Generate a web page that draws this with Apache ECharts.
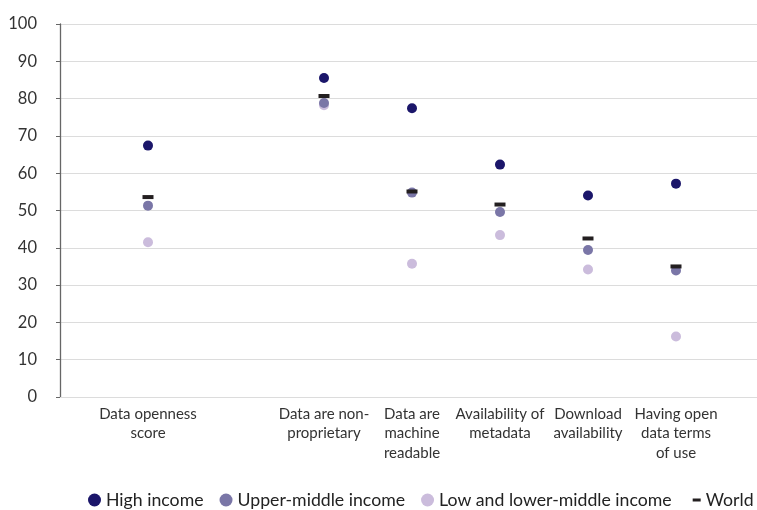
<!DOCTYPE html>
<html>
<head>
<meta charset="utf-8">
<script src="https://cdn.jsdelivr.net/npm/echarts@6/dist/echarts.min.js"></script>
<style>
html,body{margin:0;padding:0;background:#fff;}
#chart{width:757px;height:510px;}
</style>
</head>
<body>
<div id="chart"></div>
<script>
var categories = ['', 'Data openness\nscore', '', 'Data are non-\nproprietary', 'Data are\nmachine\nreadable', 'Availability of\nmetadata', 'Download\navailability', 'Having open\ndata terms\nof use', ''];
var highIncome = [null, 67.4, null, 85.5, 77.4, 62.3, 54.0, 57.2, null];
var upperMiddle = [null, 51.3, null, 78.8, 54.8, 49.6, 39.4, 33.9, null];
var lowLowerMiddle = [null, 41.5, null, 78.2, 35.7, 43.4, 34.2, 16.2, null];
var world = [null, 53.6, null, 80.7, 55.1, 51.6, 42.5, 35.0, null];
var yTicks = {min: 0, max: 100, interval: 10};

var FONT = 'Lato';
var chart = echarts.init(document.getElementById('chart'), null, {renderer: 'canvas'});
chart.setOption({
  animation: false,
  textStyle: {fontFamily: FONT},
  grid: {left: 60, top: 24, width: 704, height: 373, containLabel: false, outerBoundsMode: 'none'},
  legend: {
    left: 83, top: 486, width: 700,
    itemWidth: 13, itemHeight: 13, itemGap: 16, itemTextGap: 6,
    textStyle: {fontSize: 17.7, color: '#222', fontFamily: FONT},
    data: [
      {name: 'High income', icon: 'circle'},
      {name: 'Upper-middle income', icon: 'circle'},
      {name: 'Low and lower-middle income', icon: 'circle'},
      {name: 'World', icon: 'path://M0,0M5,5h8v3h-8zM13,13'}
    ]
  },
  xAxis: {
    type: 'category',
    data: categories,
    boundaryGap: false,
    axisLine: {show: true, lineStyle: {color: '#dcdcdc', width: 1}},
    axisTick: {show: false},
    splitLine: {show: false},
    axisLabel: {interval: 0, fontSize: 15, color: '#333', lineHeight: 19.5, margin: 7, fontFamily: FONT}
  },
  yAxis: {
    type: 'value',
    min: yTicks.min, max: yTicks.max, interval: yTicks.interval,
    axisLine: {show: true, lineStyle: {color: '#666', width: 1.3}},
    axisTick: {show: true, length: 4, lineStyle: {color: '#666'}},
    splitLine: {lineStyle: {color: '#dcdcdc', width: 1}},
    axisLabel: {fontSize: 16.5, color: '#333', margin: 23, fontFamily: FONT}
  },
  series: [
    {name: 'Low and lower-middle income', type: 'scatter', data: lowLowerMiddle, symbol: 'circle', symbolSize: 10, itemStyle: {color: '#cbbcdc', opacity: 1}, z: 2},
    {name: 'Upper-middle income', type: 'scatter', data: upperMiddle, symbol: 'circle', symbolSize: 10, itemStyle: {color: '#7a76a7', opacity: 1}, z: 3},
    {name: 'High income', type: 'scatter', data: highIncome, symbol: 'circle', symbolSize: 10, itemStyle: {color: '#1b166a', opacity: 1}, z: 4},
    {name: 'World', type: 'scatter', data: world, symbol: 'rect', symbolSize: [11, 4], itemStyle: {color: '#231f20', opacity: 1}, z: 5}
  ]
});
</script>
</body>
</html>
